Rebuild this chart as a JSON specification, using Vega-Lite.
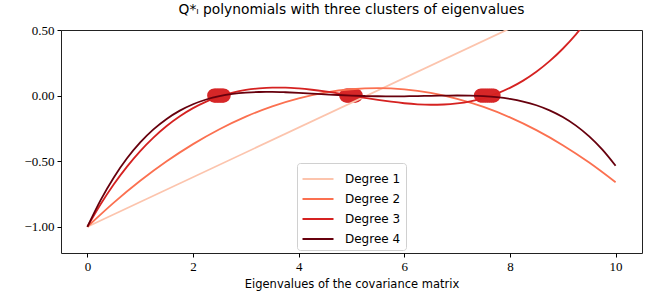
{
  "$schema": "https://vega.github.io/schema/vega-lite/v6.json",
  "width": 581,
  "height": 223,
  "autosize": "none",
  "padding": {"left": 61, "top": 30, "right": 8, "bottom": 48},
  "title": {"text": "Q*ₗ polynomials with three clusters of eigenvalues", "font": "DejaVu Sans", "fontSize": 13.8, "fontWeight": "normal", "color": "#000", "offset": 7, "anchor": "middle"},
  "datasets": {
    "eig": [
      {"x": 2.40}, {"x": 2.43}, {"x": 2.46}, {"x": 2.49}, {"x": 2.52}, {"x": 2.55}, {"x": 2.58},
      {"x": 4.90}, {"x": 4.93}, {"x": 4.96}, {"x": 4.99}, {"x": 5.02}, {"x": 5.05}, {"x": 5.08},
      {"x": 7.45}, {"x": 7.49}, {"x": 7.53}, {"x": 7.57}, {"x": 7.61}, {"x": 7.65}, {"x": 7.69}
    ],
    "poly": [
      {"degree": "Degree 1", "x": 0, "y": -1},
      {"degree": "Degree 1", "x": 10, "y": 0.89},
      {"degree": "Degree 2", "x": 0, "y": -1},
      {"degree": "Degree 2", "x": 0.5, "y": -0.8161},
      {"degree": "Degree 2", "x": 1, "y": -0.6498},
      {"degree": "Degree 2", "x": 1.5, "y": -0.5011},
      {"degree": "Degree 2", "x": 2, "y": -0.3699},
      {"degree": "Degree 2", "x": 2.5, "y": -0.2563},
      {"degree": "Degree 2", "x": 3, "y": -0.1603},
      {"degree": "Degree 2", "x": 3.5, "y": -0.0818},
      {"degree": "Degree 2", "x": 4, "y": -0.0209},
      {"degree": "Degree 2", "x": 4.5, "y": 0.0225},
      {"degree": "Degree 2", "x": 5, "y": 0.0483},
      {"degree": "Degree 2", "x": 5.5, "y": 0.0565},
      {"degree": "Degree 2", "x": 6, "y": 0.0471},
      {"degree": "Degree 2", "x": 6.5, "y": 0.0202},
      {"degree": "Degree 2", "x": 7, "y": -0.0243},
      {"degree": "Degree 2", "x": 7.5, "y": -0.0863},
      {"degree": "Degree 2", "x": 8, "y": -0.1659},
      {"degree": "Degree 2", "x": 8.5, "y": -0.2631},
      {"degree": "Degree 2", "x": 9, "y": -0.3778},
      {"degree": "Degree 2", "x": 9.5, "y": -0.5101},
      {"degree": "Degree 2", "x": 10, "y": -0.66},
      {"degree": "Degree 3", "x": 0, "y": -1},
      {"degree": "Degree 3", "x": 0.25, "y": -0.8289},
      {"degree": "Degree 3", "x": 0.5, "y": -0.6762},
      {"degree": "Degree 3", "x": 0.75, "y": -0.5412},
      {"degree": "Degree 3", "x": 1, "y": -0.4227},
      {"degree": "Degree 3", "x": 1.25, "y": -0.3199},
      {"degree": "Degree 3", "x": 1.5, "y": -0.2317},
      {"degree": "Degree 3", "x": 1.75, "y": -0.1573},
      {"degree": "Degree 3", "x": 2, "y": -0.0956},
      {"degree": "Degree 3", "x": 2.25, "y": -0.0457},
      {"degree": "Degree 3", "x": 2.5, "y": -0.0066},
      {"degree": "Degree 3", "x": 2.75, "y": 0.0226},
      {"degree": "Degree 3", "x": 3, "y": 0.0429},
      {"degree": "Degree 3", "x": 3.25, "y": 0.0553},
      {"degree": "Degree 3", "x": 3.5, "y": 0.0606},
      {"degree": "Degree 3", "x": 3.75, "y": 0.06},
      {"degree": "Degree 3", "x": 4, "y": 0.0543},
      {"degree": "Degree 3", "x": 4.25, "y": 0.0444},
      {"degree": "Degree 3", "x": 4.5, "y": 0.0315},
      {"degree": "Degree 3", "x": 4.75, "y": 0.0164},
      {"degree": "Degree 3", "x": 5, "y": 0},
      {"degree": "Degree 3", "x": 5.25, "y": -0.0166},
      {"degree": "Degree 3", "x": 5.5, "y": -0.0325},
      {"degree": "Degree 3", "x": 5.75, "y": -0.0468},
      {"degree": "Degree 3", "x": 6, "y": -0.0584},
      {"degree": "Degree 3", "x": 6.25, "y": -0.0664},
      {"degree": "Degree 3", "x": 6.5, "y": -0.0699},
      {"degree": "Degree 3", "x": 6.75, "y": -0.0678},
      {"degree": "Degree 3", "x": 7, "y": -0.0593},
      {"degree": "Degree 3", "x": 7.25, "y": -0.0434},
      {"degree": "Degree 3", "x": 7.5, "y": -0.019},
      {"degree": "Degree 3", "x": 7.75, "y": 0.0147},
      {"degree": "Degree 3", "x": 8, "y": 0.0587},
      {"degree": "Degree 3", "x": 8.25, "y": 0.114},
      {"degree": "Degree 3", "x": 8.5, "y": 0.1815},
      {"degree": "Degree 3", "x": 8.75, "y": 0.2622},
      {"degree": "Degree 3", "x": 9, "y": 0.3571},
      {"degree": "Degree 3", "x": 9.25, "y": 0.4671},
      {"degree": "Degree 3", "x": 9.5, "y": 0.5932},
      {"degree": "Degree 3", "x": 9.75, "y": 0.7363},
      {"degree": "Degree 3", "x": 10, "y": 0.8975},
      {"degree": "Degree 4", "x": 0, "y": -1},
      {"degree": "Degree 4", "x": 0.25, "y": -0.7967},
      {"degree": "Degree 4", "x": 0.5, "y": -0.6238},
      {"degree": "Degree 4", "x": 0.75, "y": -0.4782},
      {"degree": "Degree 4", "x": 1, "y": -0.3572},
      {"degree": "Degree 4", "x": 1.25, "y": -0.2579},
      {"degree": "Degree 4", "x": 1.5, "y": -0.1779},
      {"degree": "Degree 4", "x": 1.75, "y": -0.1146},
      {"degree": "Degree 4", "x": 2, "y": -0.066},
      {"degree": "Degree 4", "x": 2.25, "y": -0.0298},
      {"degree": "Degree 4", "x": 2.5, "y": -0.004},
      {"degree": "Degree 4", "x": 2.75, "y": 0.013},
      {"degree": "Degree 4", "x": 3, "y": 0.023},
      {"degree": "Degree 4", "x": 3.25, "y": 0.0275},
      {"degree": "Degree 4", "x": 3.5, "y": 0.0279},
      {"degree": "Degree 4", "x": 3.75, "y": 0.0253},
      {"degree": "Degree 4", "x": 4, "y": 0.0208},
      {"degree": "Degree 4", "x": 4.25, "y": 0.0154},
      {"degree": "Degree 4", "x": 4.5, "y": 0.0097},
      {"degree": "Degree 4", "x": 4.75, "y": 0.0044},
      {"degree": "Degree 4", "x": 5, "y": 0},
      {"degree": "Degree 4", "x": 5.25, "y": -0.0033},
      {"degree": "Degree 4", "x": 5.5, "y": -0.0052},
      {"degree": "Degree 4", "x": 5.75, "y": -0.0059},
      {"degree": "Degree 4", "x": 6, "y": -0.0053},
      {"degree": "Degree 4", "x": 6.25, "y": -0.0039},
      {"degree": "Degree 4", "x": 6.5, "y": -0.002},
      {"degree": "Degree 4", "x": 6.75, "y": -0.0003},
      {"degree": "Degree 4", "x": 7, "y": 0.0006},
      {"degree": "Degree 4", "x": 7.25, "y": -0.0004},
      {"degree": "Degree 4", "x": 7.5, "y": -0.0042},
      {"degree": "Degree 4", "x": 7.75, "y": -0.012},
      {"degree": "Degree 4", "x": 8, "y": -0.0251},
      {"degree": "Degree 4", "x": 8.25, "y": -0.0452},
      {"degree": "Degree 4", "x": 8.5, "y": -0.0737},
      {"degree": "Degree 4", "x": 8.75, "y": -0.1126},
      {"degree": "Degree 4", "x": 9, "y": -0.1637},
      {"degree": "Degree 4", "x": 9.25, "y": -0.2291},
      {"degree": "Degree 4", "x": 9.5, "y": -0.3111},
      {"degree": "Degree 4", "x": 9.75, "y": -0.4121},
      {"degree": "Degree 4", "x": 10, "y": -0.5347}
    ]
  },
  "layer": [
    {
      "data": {"name": "eig"},
      "mark": {"type": "point", "filled": true, "shape": "circle", "size": 200, "color": "#d62728", "opacity": 1, "clip": true},
      "encoding": {
        "x": {"field": "x", "type": "quantitative"},
        "y": {"datum": 0, "type": "quantitative"}
      }
    },
    {
      "data": {"name": "poly"},
      "mark": {"type": "line", "strokeWidth": 1.8, "interpolate": "monotone", "clip": true},
      "encoding": {
        "x": {"field": "x", "type": "quantitative", "scale": {"domain": [-0.5, 10.5], "nice": false, "zero": false},
          "axis": {"title": "Eigenvalues of the covariance matrix", "values": [0, 2, 4, 6, 8, 10], "format": "d"}},
        "y": {"field": "y", "type": "quantitative", "scale": {"domain": [-1.2, 0.5], "nice": false, "zero": false},
          "axis": {"title": null, "values": [-1, -0.75, -0.5, -0.25, 0, 0.25, 0.5], "format": ".2f", "labelExpr": "replace(datum.label, '-', '\u2212')"}},
        "color": {"field": "degree", "type": "nominal",
          "scale": {"domain": ["Degree 1", "Degree 2", "Degree 3", "Degree 4"], "range": ["#fcc4ad", "#fb7050", "#d52221", "#67000d"]},
          "legend": {"title": null, "orient": "none", "legendX": 236, "legendY": 133}}
      }
    }
  ],
  "config": {
    "view": {"stroke": "#222", "strokeWidth": 1},
    "axis": {
      "grid": false, "domain": false, "ticks": true, "tickColor": "#000", "tickSize": 4, "tickWidth": 1,
      "labelFont": "Liberation Serif", "labelFontSize": 13, "labelColor": "#000", "labelPadding": 3,
      "titleFont": "DejaVu Sans", "titleFontSize": 11.5, "titleFontWeight": "normal", "titleColor": "#000", "titlePadding": 5
    },
    "legend": {
      "fillColor": "white", "strokeColor": "#d0d0d0", "cornerRadius": 3, "padding": 5,
      "symbolType": "M-1.55,0H1.55", "symbolSize": 400, "symbolStrokeWidth": 2, "symbolOpacity": 1, "symbolOffset": 5,
      "labelFont": "DejaVu Sans", "labelFontSize": 12, "labelColor": "#000", "labelOffset": 16, "rowPadding": 3
    }
  }
}
